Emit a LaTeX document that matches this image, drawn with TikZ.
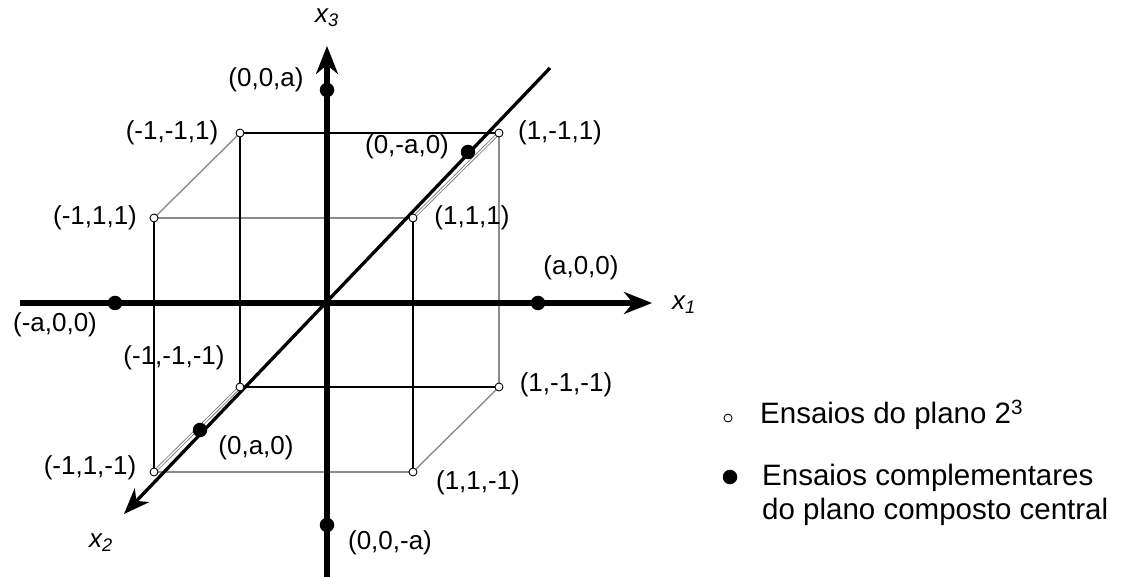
\documentclass[tikz,border=0pt]{standalone}
\usepackage{fontspec}
\setmainfont{Liberation Sans}
\usetikzlibrary{arrows.meta}
\begin{document}
\begin{tikzpicture}[x=1pt,y=-1pt,
 vtx/.style={circle,draw=black,fill=white,line width=0.9pt,inner sep=0pt,minimum size=8pt},
 dot/.style={circle,fill=black,inner sep=0pt,minimum size=14.5pt},
 blk/.style={draw=black,line width=1.3pt},
 gry/.style={draw=black!45,line width=1.4pt},
 dbl/.style={draw=black!55,line width=0.8pt,double=white,double distance=1.4pt},
 axisthick/.style={line width=5.5pt,-{Stealth[length=28pt,width=22pt,inset=9pt]}},
 axisthin/.style={line width=3.3pt,-{Stealth[length=26pt,width=20pt,inset=8pt]}},
 lbl/.style={font=\fontsize{26}{30}\selectfont,inner sep=0pt},
 axlbl/.style={font=\fontsize{26}{30}\selectfont\itshape,inner sep=0pt},
 leg/.style={font=\fontsize{29.5}{34}\selectfont,inner sep=0pt,align=left}]
\useasboundingbox (0,0) rectangle (1136,577);
% cube vertices
\coordinate (mmp) at (240,133);
\coordinate (pmp) at (499,133);
\coordinate (mpp) at (154,218);
\coordinate (ppp) at (413,218);
\coordinate (mmm) at (240,387);
\coordinate (pmm) at (499,387);
\coordinate (mpm) at (154,472);
\coordinate (ppm) at (413,472);
% cube edges
\draw[gry] (mmp) -- (mpp);
\draw[gry] (mpp) -- (ppp);
\draw[gry] (pmp) -- (pmm);
\draw[gry] (pmm) -- (ppm);
\draw[gry] (mpm) -- (ppm);
\draw[blk] (mmp) -- (pmp);
\draw[blk] (mmp) -- (mmm);
\draw[blk] (mpp) -- (mpm);
\draw[blk] (ppp) -- (ppm);
\draw[blk] (mmm) -- (pmm);
\draw[dbl] (ppp) -- (pmp);
\draw[dbl] (mpm) -- (mmm);
% axes
\coordinate (x1a) at (20,303);
\coordinate (x1b) at (652,303);
\coordinate (x3a) at (327,577);
\coordinate (x3b) at (327,46);
\coordinate (x2a) at (550,68);
\coordinate (x2b) at (124,514);
\draw[axisthick] (x1a) -- (x1b);
\draw[axisthick] (x3a) -- (x3b);
\draw[axisthin] (x2a) -- (x2b);
% vertex markers
\node[vtx] (vmmp) at (mmp) {};
\node[vtx] (vpmp) at (pmp) {};
\node[vtx] (vmpp) at (mpp) {};
\node[vtx] (vppp) at (ppp) {};
\node[vtx] (vmmm) at (mmm) {};
\node[vtx] (vpmm) at (pmm) {};
\node[vtx] (vmpm) at (mpm) {};
\node[vtx] (vppm) at (ppm) {};
% axial points
\node[dot] (pa) at (538,303) {};
\node[dot] (ma) at (115,303) {};
\node[dot] (pc) at (327,90) {};
\node[dot] (mc) at (327,525) {};
\node[dot] (mb) at (468,152) {};
\node[dot] (pb) at (200,430) {};
% labels
\node[axlbl] (lx3) at (327,18) {x\textsubscript{3}};
\node[axlbl] (lx1) at (684,305) {x\textsubscript{1}};
\node[axlbl] (lx2) at (101,543) {x\textsubscript{2}};
\node[lbl] (lpc) at (266,80) {(0,0,a)};
\node[lbl] (lmmp) at (172,133) {(-1,-1,1)};
\node[lbl] (lmb) at (407,147) {(0,-a,0)};
\node[lbl] (lpmp) at (560,133) {(1,-1,1)};
\node[lbl] (lmpp) at (95,218) {(-1,1,1)};
\node[lbl] (lppp) at (472,218) {(1,1,1)};
\node[lbl] (lpa) at (581,268) {(a,0,0)};
\node[lbl] (lma) at (55,325) {(-a,0,0)};
\node[lbl] (lmmm) at (174,358) {(-1,-1,-1)};
\node[lbl] (lpmm) at (566,385) {(1,-1,-1)};
\node[lbl] (lpb) at (256,448) {(0,a,0)};
\node[lbl] (lmpm) at (90,468) {(-1,1,-1)};
\node[lbl] (lppm) at (478,483) {(1,1,-1)};
\node[lbl] (lmc) at (390,543) {(0,0,-a)};
% legend
\node[vtx] (legv) at (728,418) {};
\node[leg,anchor=west] (legvt) at (760,415) {Ensaios do plano 2\textsuperscript{3}};
\node[dot] (legd) at (730,477) {};
\node[leg,anchor=west] (legdt) at (762,495) {Ensaios complementares\\do plano composto central};
\end{tikzpicture}
\end{document}
